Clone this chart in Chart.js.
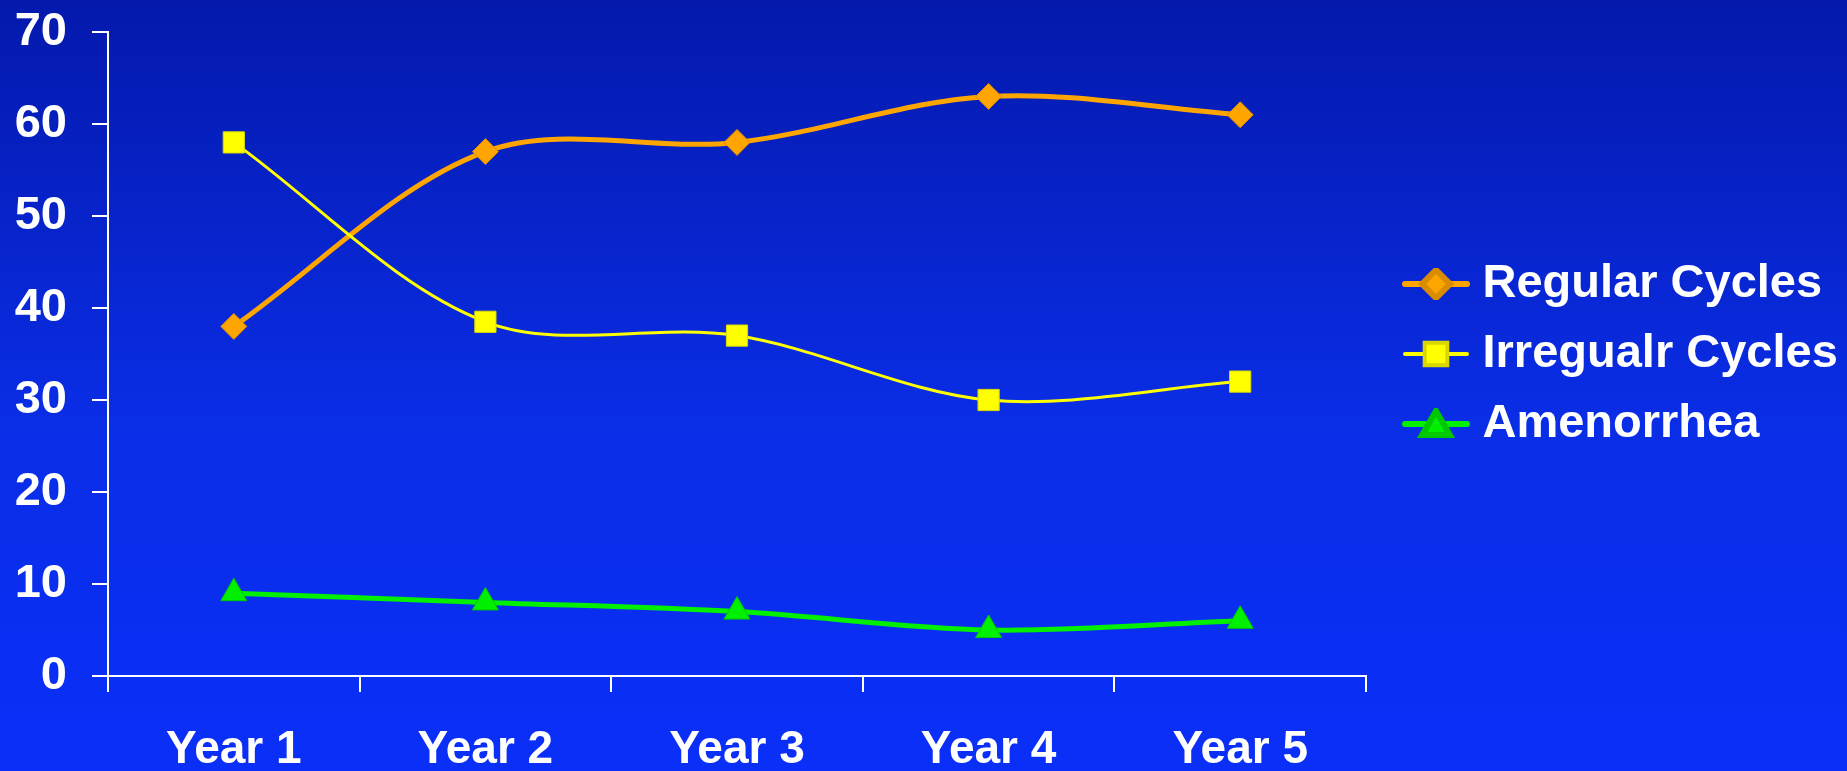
<!DOCTYPE html>
<html>
<head>
<meta charset="utf-8">
<title>Menstrual pattern by year</title>
<script src="https://cdn.jsdelivr.net/npm/chart.js@4.4.1/dist/chart.umd.min.js"></script>
<style>
  html, body { margin: 0; padding: 0; background: #0a2ef0; overflow: hidden; }
  #graph-container { width: 1847px; height: 771px; }
</style>
</head>
<body>
<div id="graph-container"><canvas id="lineChartCycles" width="1847" height="771"></canvas></div>
<script>
// data
var years = ['Year 1', 'Year 2', 'Year 3', 'Year 4', 'Year 5'];
var regularCycles = [38, 57, 58, 63, 61];
var irregularCycles = [58, 38.5, 37, 30, 32];
var amenorrhea = [9, 8, 7, 5, 6];
var yTicks = [0, 10, 20, 30, 40, 50, 60, 70];

var FONT = "'Liberation Sans', Arial, Helvetica, sans-serif";
Chart.defaults.font.family = FONT;
Chart.defaults.color = '#ffffff';

// blue gradient behind everything
var background = {
    id: 'background',
    beforeDraw: function (chart) {
        var ctx = chart.ctx;
        var g = ctx.createLinearGradient(0, 0, 0, chart.height);
        g.addColorStop(0, '#0419ac');
        g.addColorStop(0.55, '#0a2de6');
        g.addColorStop(1, '#0a2ff8');
        ctx.save();
        ctx.fillStyle = g;
        ctx.fillRect(0, 0, chart.width, chart.height);
        ctx.restore();
    }
};

// legend swatch: short line with the marker on top, like the original
function legendSwatch(ds) {
    var c = document.createElement('canvas');
    c.width = 96;
    c.height = 32;
    var ctx = c.getContext('2d');
    ctx.strokeStyle = ds.borderColor;
    ctx.lineWidth = ds.borderWidth + 1;
    ctx.lineCap = 'round';
    ctx.beginPath();
    ctx.moveTo(29, 16);
    ctx.lineTo(91, 16);
    ctx.stroke();
    ctx.fillStyle = ds.pointBackgroundColor;
    ctx.strokeStyle = ds.pointBorderColor;
    if (Chart.helpers && Chart.helpers.drawPoint) {
        Chart.helpers.drawPoint(ctx, {
            pointStyle: ds.pointStyle,
            radius: ds.pointRadius + 1,
            rotation: 0,
            borderWidth: 1
        }, 60, ds.pointStyle === 'triangle' ? 19 : 16);
    }
    return c;
}

var datasets = [{
    label: 'Regular Cycles',
    data: regularCycles,
    borderColor: '#ffa500',
    borderWidth: 5,
    pointStyle: 'rectRot',
    pointRadius: 13,
    pointBackgroundColor: '#ffa500',
    pointBorderColor: '#d98c00',
    pointBorderWidth: 1,
    order: 3
}, {
    label: 'Irregualr Cycles',
    data: irregularCycles,
    borderColor: '#ffff00',
    borderWidth: 3,
    pointStyle: 'rect',
    pointRadius: 15,
    pointBackgroundColor: '#ffff00',
    pointBorderColor: '#d8d800',
    pointBorderWidth: 1,
    order: 2
}, {
    label: 'Amenorrhea',
    data: amenorrhea,
    borderColor: '#00f000',
    borderWidth: 5,
    pointStyle: 'triangle',
    pointRadius: 15,
    pointBackgroundColor: '#00f000',
    pointBorderColor: '#00c800',
    pointBorderWidth: 1,
    order: 1
}];

var ctx = document.getElementById('lineChartCycles').getContext('2d');
var chart = new Chart(ctx, {
    type: 'line',
    data: { labels: years, datasets: datasets },
    plugins: [background],
    options: {
        responsive: false,
        animation: false,
        layout: { padding: { top: 32, right: 0, bottom: 0, left: 0 } },
        elements: {
            line: { tension: 0.33, fill: false, borderJoinStyle: 'round' }
        },
        plugins: {
            tooltip: { enabled: false },
            legend: {
                position: 'right',
                fullSize: false,
                maxWidth: 481,
                labels: {
                    usePointStyle: true,
                    pointStyleWidth: 70,
                    padding: 23,
                    color: '#ffffff',
                    font: { family: FONT, size: 47, weight: 'bold' },
                    generateLabels: function (chart) {
                        return chart.data.datasets.map(function (ds, i) {
                            return {
                                text: ds.label,
                                fontColor: '#ffffff',
                                pointStyle: legendSwatch(ds),
                                datasetIndex: i,
                                hidden: false,
                                lineWidth: 0,
                                strokeStyle: 'rgba(0,0,0,0)',
                                fillStyle: 'rgba(0,0,0,0)'
                            };
                        });
                    }
                }
            }
        },
        scales: {
            x: {
                offset: true,
                afterFit: function (scale) {
                    scale.height = 95;
                    scale.paddingLeft = 0;
                    scale.paddingRight = 0;
                },
                border: { display: true, color: '#ffffff', width: 2 },
                grid: {
                    offset: true,
                    drawOnChartArea: false,
                    drawTicks: true,
                    tickLength: 16,
                    color: '#ffffff',
                    lineWidth: 2
                },
                ticks: {
                    color: '#ffffff',
                    padding: 31,
                    maxRotation: 0,
                    font: { family: FONT, size: 46, weight: 'bold' }
                }
            },
            y: {
                min: 0,
                max: 70,
                afterFit: function (scale) {
                    scale.width = 108;
                    scale.paddingTop = 0;
                    scale.paddingBottom = 0;
                },
                afterBuildTicks: function (scale) {
                    scale.ticks = yTicks.map(function (v) { return { value: v }; });
                },
                border: { display: true, color: '#ffffff', width: 2 },
                grid: {
                    drawOnChartArea: false,
                    drawTicks: true,
                    tickLength: 16,
                    color: '#ffffff',
                    lineWidth: 2
                },
                ticks: {
                    color: '#ffffff',
                    padding: 25,
                    font: { family: FONT, size: 47, weight: 'bold' }
                }
            }
        }
    }
});
</script>
</body>
</html>
